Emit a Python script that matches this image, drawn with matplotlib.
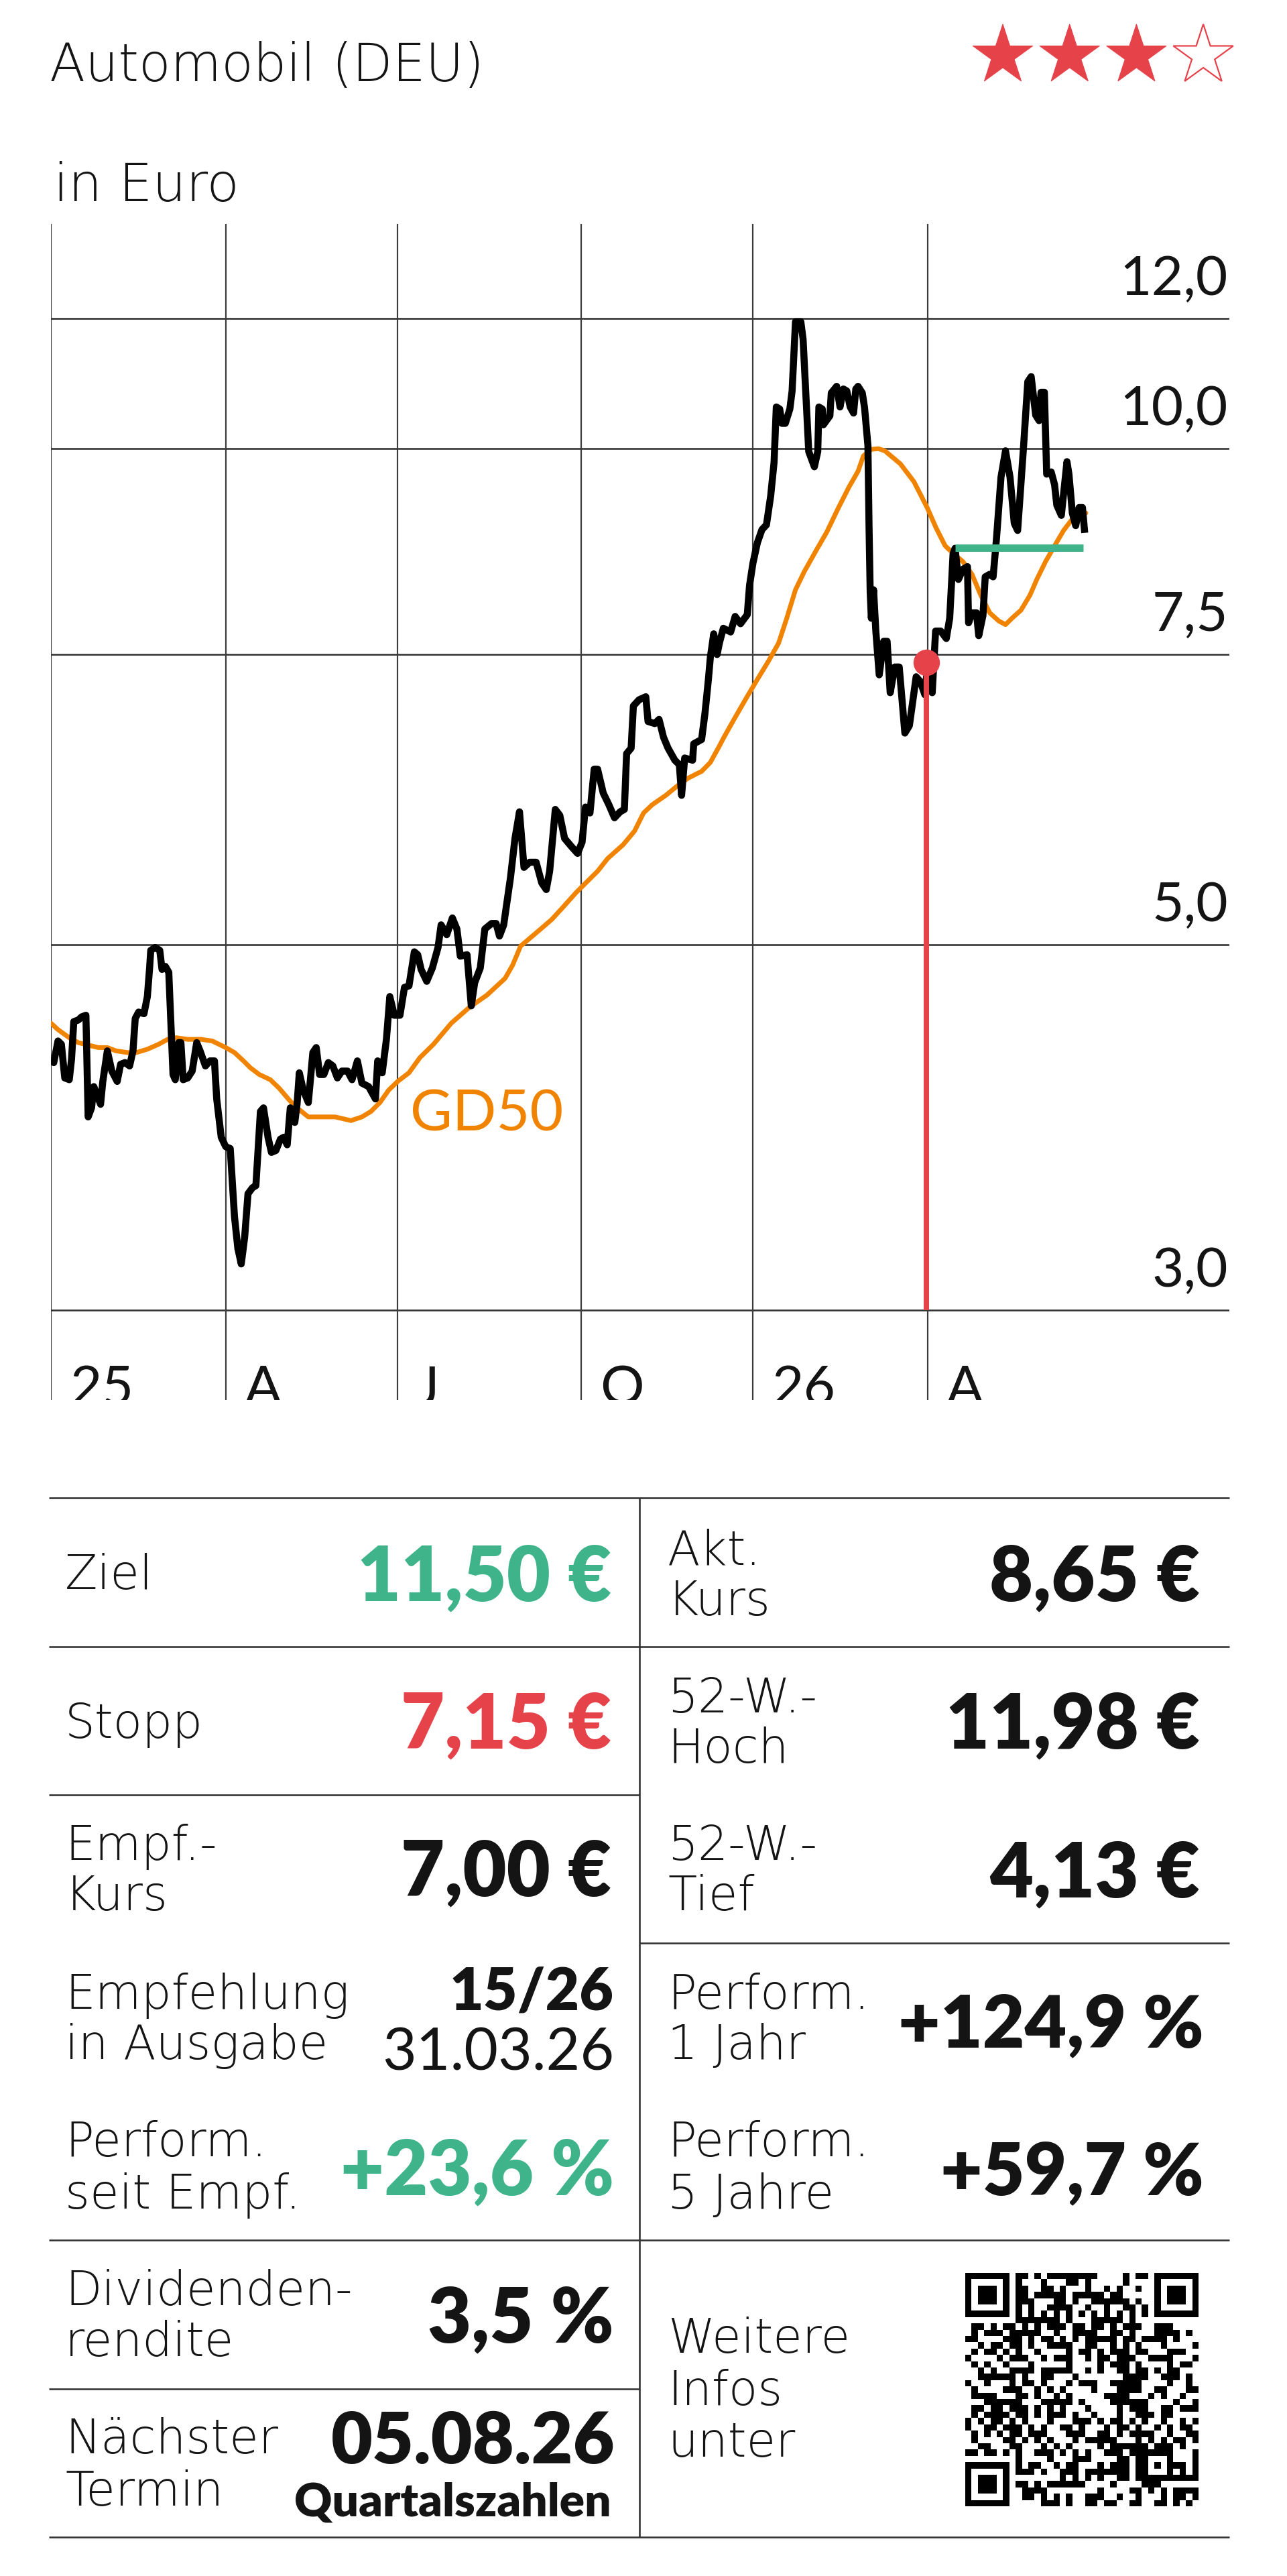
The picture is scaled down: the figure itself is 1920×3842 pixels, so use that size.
import hashlib
import numpy as np
import matplotlib
matplotlib.use("Agg")
import matplotlib.pyplot as plt
from matplotlib import font_manager as fm
from matplotlib.patches import Polygon
from matplotlib.colors import ListedColormap

W, H = 1920, 3842
DPI = 100
PT = 72 / DPI  # pixel -> point

plt.rcParams['font.family'] = ['Lato', 'DejaVu Sans']

# ---------------- data ----------------
title = "Automobil (DEU)"
unit_label = "in Euro"
stars_filled = 3
stars_total = 4

# x = trading-day index since start of 2025
price_day = [0.0, 1.0, 2.5, 3.7, 4.9, 6.5, 7.3, 8.1, 9.7, 10.9, 12.4, 13.2, 14.4, 15.2, 16.4,
             17.6, 18.4, 20.0, 21.6, 23.5, 24.7, 26.3, 27.9, 29.1, 29.9, 31.1, 33.0, 34.2, 35.0,
             35.4, 37.0, 38.6, 39.4, 40.6, 41.8, 43.3, 44.1, 45.3, 46.1, 46.9, 48.5, 50.1, 51.7,
             52.9, 54.8, 56.4, 58.0, 58.8, 60.4, 62.0, 63.6, 65.1, 66.3, 67.5, 68.7, 69.9, 71.5,
             72.7, 74.3, 75.4, 77.0, 78.2, 79.8, 81.4, 82.6, 83.8, 84.9, 86.5, 87.3, 88.1, 89.5,
             91.3, 92.9, 94.1, 95.3, 96.8, 98.4, 100.0, 101.6, 103.2, 105.2, 106.8, 108.7, 110.3,
             112.7, 115.1, 115.9, 117.5, 119.0, 120.2, 121.8, 123.8, 125.4, 127.0, 128.9, 130.1,
             131.3, 133.3, 135.3, 137.3, 138.4, 140.4, 142.4, 144.0, 145.2, 147.6, 149.1, 150.3,
             152.3, 153.9, 156.3, 157.9, 159.1, 160.6, 163.0, 164.6, 166.2, 167.8, 169.8, 172.1,
             174.1, 175.7, 176.9, 178.9, 180.5, 182.2, 184.8, 186.8, 188.4, 189.6, 191.2, 192.7,
             193.9, 195.9, 197.9, 199.9, 201.9, 203.4, 204.2, 205.8, 206.6, 208.6, 211.0, 211.8,
             214.2, 215.7, 217.3, 218.9, 221.3, 222.9, 223.7, 224.8, 227.6, 228.0, 230.8, 232.0,
             233.2, 233.9, 235.1, 236.3, 237.1, 238.5, 241.1, 242.7, 244.6, 247.0, 247.8, 249.0,
             250.6, 252.2, 253.8, 255.3, 256.5, 257.3, 258.5, 259.3, 260.5, 262.1, 262.9, 264.1,
             266.0, 266.8, 268.0, 268.8, 270.8, 272.0, 272.4, 273.6, 274.0, 276.3, 276.8, 278.7,
             279.9, 281.1, 282.3, 283.5, 284.7, 285.5, 286.3, 287.8, 288.6, 289.8, 290.2, 290.6,
             291.0, 291.8, 292.6, 293.8, 295.4, 296.6, 297.7, 299.3, 300.9, 302.9, 304.5, 306.9,
             308.4, 310.0, 311.0, 312.6, 313.8, 315.6, 317.6, 318.8, 320.0, 320.7, 321.9, 323.5,
             325.1, 325.5, 326.7, 328.3, 329.1, 330.6, 331.4, 333.0, 334.2, 335.4, 337.0, 338.6,
             340.2, 341.7, 342.9, 344.9, 346.5, 347.7, 349.3, 350.5, 351.2, 352.4, 353.2, 354.8,
             356.0, 356.8, 358.4, 360.4, 361.1, 362.3, 363.5, 364.7, 365.9, 366.7]
price_val = [4.26, 4.24, 4.37, 4.35, 4.15, 4.14, 4.26, 4.49, 4.50, 4.52, 4.53, 3.93, 3.98, 4.10, 4.05,
             4.00, 4.13, 4.31, 4.19, 4.13, 4.23, 4.24, 4.22, 4.31, 4.51, 4.55, 4.54, 4.65, 4.84,
             4.96, 4.98, 4.96, 4.83, 4.85, 4.81, 4.17, 4.14, 4.36, 4.36, 4.14, 4.15, 4.19, 4.36,
             4.31, 4.22, 4.25, 4.25, 4.03, 3.82, 3.77, 3.76, 3.42, 3.27, 3.20, 3.32, 3.53, 3.56,
             3.57, 3.96, 3.98, 3.82, 3.74, 3.75, 3.81, 3.82, 3.78, 3.98, 3.90, 4.00, 4.18, 4.08,
             4.01, 4.30, 4.33, 4.17, 4.17, 4.24, 4.22, 4.15, 4.19, 4.19, 4.14, 4.25, 4.12,
             4.10, 4.03, 4.25, 4.18, 4.38, 4.65, 4.53, 4.53, 4.71, 4.72, 4.95, 4.93,
             4.83, 4.75, 4.84, 4.98, 5.14, 5.07, 5.19, 5.11, 4.92, 4.93, 4.59, 4.74,
             4.84, 5.11, 5.15, 5.15, 5.06, 5.14, 5.49, 5.80, 6.02, 5.57, 5.61, 5.61,
             5.45, 5.40, 5.54, 6.04, 5.99, 5.80, 5.73, 5.68, 5.77, 6.06, 6.01, 6.39,
             6.39, 6.18, 6.08, 5.97, 6.02, 6.04, 6.53, 6.58, 6.98, 7.04, 7.07, 6.83,
             6.81, 6.85, 6.68, 6.58, 6.47, 6.43, 6.16, 6.49, 6.47, 6.62, 6.66, 6.91,
             7.24, 7.47, 7.72, 7.50, 7.62, 7.78, 7.74, 7.91, 7.83, 7.93, 8.26, 8.52,
             8.77, 8.93, 8.99, 9.36, 9.81, 10.60, 10.57, 10.36, 10.36, 10.57, 10.84, 11.94,
             11.94, 11.65, 10.60, 9.96, 9.75, 9.96, 10.60, 10.57, 10.34, 10.47, 10.81, 10.91,
             10.60, 10.87, 10.84, 10.60, 10.51, 10.87, 10.91, 10.81, 10.59, 10.04, 8.95, 8.18,
             7.89, 8.21, 7.75, 7.29, 7.64, 7.64, 7.11, 7.37, 7.37, 6.72, 6.79, 7.27,
             7.22, 7.09, 7.40, 7.11, 7.75, 7.75, 7.67, 7.89, 8.63, 8.70, 8.33, 8.45,
             8.48, 7.84, 7.95, 7.95, 7.70, 7.92, 8.36, 8.39, 8.36, 8.82, 9.61, 9.97,
             9.61, 9.01, 8.92, 9.97, 10.98, 11.06, 10.48, 10.40, 10.82, 10.82, 9.65, 9.68,
             9.51, 9.24, 9.11, 9.82, 9.65, 9.14, 8.98, 9.21, 9.21, 8.89]

gd50_day = [0.0, 2.5, 6.5, 9.7, 14.4, 16.8, 20.0, 23.1, 27.1, 30.3, 34.2, 38.2, 41.4, 44.5, 48.5,
            53.3, 57.2, 59.6, 62.0, 65.1, 68.3, 70.7, 73.9, 77.8, 81.0, 84.2, 86.5, 88.1, 91.3,
            96.1, 100.8, 106.4, 110.3, 113.5, 116.7, 119.8, 123.0, 127.0, 130.9, 135.7, 142.0,
            148.4, 154.7, 161.1, 163.8, 166.6, 169.0, 173.7, 177.7, 181.7, 186.4, 193.9, 197.5,
            203.0, 207.0, 210.2, 213.3, 218.1, 222.1, 226.0, 230.8, 233.9, 237.1, 238.7, 242.5,
            246.5, 250.5, 254.5, 258.1, 260.9, 264.1, 267.2, 271.2, 275.2, 279.1, 283.1, 286.3,
            288.2, 291.0, 293.5, 295.8, 301.3, 306.1, 310.8, 314.0, 317.2, 320.3, 323.5, 326.7,
            329.8, 333.0, 336.2, 338.6, 340.9, 344.1, 347.3, 349.7, 352.8, 356.0, 359.2, 362.0,
            364.7, 367.1]
gd50_val = [4.48, 4.44, 4.39, 4.36, 4.34, 4.33, 4.33, 4.31, 4.30, 4.30, 4.32, 4.35, 4.38, 4.39, 4.38,
            4.38, 4.37, 4.35, 4.33, 4.30, 4.25, 4.21, 4.17, 4.14, 4.09, 4.03, 3.99, 3.97, 3.93,
            3.93, 3.93, 3.91, 3.93, 3.96, 4.01, 4.08, 4.13, 4.18, 4.27, 4.35, 4.48,
            4.58, 4.66, 4.77, 4.86, 4.99, 5.03, 5.11, 5.18, 5.27, 5.38, 5.54, 5.64,
            5.75, 5.86, 6.01, 6.08, 6.16, 6.24, 6.31, 6.37, 6.45, 6.60, 6.68, 6.86,
            7.05, 7.24, 7.43, 7.62, 7.88, 8.21, 8.42, 8.66, 8.90, 9.19, 9.48, 9.69,
            9.90, 9.99, 10.00, 9.97, 9.79, 9.55, 9.21, 8.95, 8.73, 8.63, 8.54, 8.39,
            8.15, 7.95, 7.86, 7.82, 7.89, 7.98, 8.15, 8.33, 8.54, 8.73, 8.92, 9.05,
            9.11, 9.14]

tick_days = [0, 62, 123, 188, 249, 311]
tick_labels = ["25", "A", "J", "O", "26", "A"]
ytick_vals = [3.0, 5.0, 7.5, 10.0, 12.0]
ytick_labels = ["3,0", "5,0", "7,5", "10,0", "12,0"]

entry_day, entry_val = 310.6, 7.42          # Empfehlung (rot)
current_level = 8.71                         # aktuelle Marke (grün)
current_from, current_to = 320.8, 366.2

table_left = [  # (label lines, value, value colour)
    (["Ziel"], "11,50 €", "green"),
    (["Stopp"], "7,15 €", "red"),
    (["Empf.-", "Kurs"], "7,00 €", "black"),
    (["Empfehlung", "in Ausgabe"], ("15/26", "31.03.26"), "black"),
    (["Perform.", "seit Empf."], "+23,6 %", "green"),
    (["Dividenden-", "rendite"], "3,5 %", "black"),
    (["Nächster", "Termin"], ("05.08.26", "Quartalszahlen"), "black"),
]
table_right = [
    (["Akt.", "Kurs"], "8,65 €"),
    (["52-W.-", "Hoch"], "11,98 €"),
    (["52-W.-", "Tief"], "4,13 €"),
    (["Perform.", "1 Jahr"], "+124,9 %"),
    (["Perform.", "5 Jahre"], "+59,7 %"),
]
info_lines = ["Weitere", "Infos", "unter"]

# ---------------- fonts ----------------
def _weight(f):
    w = f.weight
    if isinstance(w, str):
        w = fm.weight_dict.get(w, 400)
    return w


def _has(family, lo, hi):
    return any(f.name == family and lo <= _weight(f) <= hi and f.style == "normal"
               for f in fm.fontManager.ttflist)


if _has("DejaVu Sans", 100, 260):
    LABEL_FONT = dict(family=["DejaVu Sans"], fontweight=200)
    LABEL_SCALE = 1.0
elif _has("Open Sans", 250, 350):
    LABEL_FONT = dict(family=["Open Sans", "DejaVu Sans"], fontweight=300)
    LABEL_SCALE = 1.02
else:
    LABEL_FONT = dict(family=["Lato", "DejaVu Sans"], fontweight="normal")
    LABEL_SCALE = 1.0
THIN = dict(family=["Lato", "DejaVu Sans"], fontweight="normal")
HEAVY = dict(family=["Lato", "DejaVu Sans"], fontweight="heavy")

# ---------------- styles ----------------
INK = "#141414"
GRID = "#333333"
GREEN = "#3fb48b"
RED = "#e6424a"
ORANGE = "#f08400"
COLORS = {"green": GREEN, "red": RED, "black": INK}

fig = plt.figure(figsize=(W / DPI, H / DPI), dpi=DPI, facecolor="white")

# pixel canvas for header and table
bg = fig.add_axes([0, 0, 1, 1])
bg.set_xlim(0, W)
bg.set_ylim(H, 0)
bg.axis("off")

# ---------------- chart ----------------
ax_l, ax_r, ax_t, ax_b = 76, 1834, 334, 2088
ax = fig.add_axes([ax_l / W, 1 - ax_b / H, (ax_r - ax_l) / W, (ax_b - ax_t) / H])
ax.set_yscale("log")
ax.set_xlim(0, 418)
ax.set_ylim(2.646, 13.69)
ax.axis("off")

for v in ytick_vals:
    ax.axhline(v, color=GRID, lw=2.6 * PT, zorder=1)
for d in tick_days:
    ax.axvline(d, color="#3c3c3c", lw=2.2 * PT, zorder=1)

for v, lab in zip(ytick_vals, ytick_labels):
    ax.annotate(lab, xy=(1, v), xycoords=("axes fraction", "data"),
                xytext=(-2 * PT, 35 * PT), textcoords="offset points",
                ha="right", va="baseline", fontsize=59, color=INK, zorder=2, **THIN)

px_per_day = (ax_r - ax_l) / 418
for d, lab in zip(tick_days, tick_labels):
    ax.text(d + 28 / px_per_day, 2.628, lab, ha="left", va="baseline",
            fontsize=59, color=INK, clip_on=True, zorder=2, **THIN)

ax.plot(gd50_day, gd50_val, color=ORANGE, lw=7 * PT, solid_joinstyle="round",
        solid_capstyle="round", zorder=3)
ax.plot(price_day, price_val, color="black", lw=10.5 * PT, solid_joinstyle="round",
        solid_capstyle="butt", zorder=4)
ax.text(127.4, 3.853, "GD50", color=ORANGE, fontsize=62, ha="left", va="baseline",
        zorder=3, **THIN)

ax.plot([current_from, current_to], [current_level, current_level], color=GREEN,
        lw=11 * PT, solid_capstyle="butt", zorder=5)
ax.plot([entry_day, entry_day], [3.0, entry_val], color=RED, lw=8 * PT,
        solid_capstyle="butt", zorder=6)
ax.plot([entry_day], [entry_val], "o", ms=38 * PT, color=RED, mec=RED, zorder=7)

# ---------------- header ----------------
bg.text(74, 121, title, fontsize=56 * LABEL_SCALE, color=INK, ha="left", va="baseline", **LABEL_FONT)
bg.text(80, 300, unit_label, fontsize=57 * LABEL_SCALE, color=INK, ha="left", va="baseline", **LABEL_FONT)

R_out, R_in = 47, 47 * 0.382
for i in range(stars_total):
    cx, cy = 1496 + i * 99.7, 83
    pts = []
    for k in range(10):
        ang = np.pi / 2 + k * np.pi / 5
        rad = R_out if k % 2 == 0 else R_in
        pts.append((cx + rad * np.cos(ang), cy - rad * np.sin(ang)))
    if i < stars_filled:
        bg.add_patch(Polygon(pts, closed=True, facecolor=RED, edgecolor=RED, lw=1 * PT))
    else:
        bg.add_patch(Polygon(pts, closed=True, facecolor="none", edgecolor=RED, lw=2.2 * PT))

# ---------------- table ----------------
TL, TM, TR = 73, 954, 1834
LW = 2.6 * PT
for y, x0, x1 in [(2233.5, TL, TR), (2455.5, TL, TR), (2677, TL, TM), (2898, TM, TR),
                  (3341, TL, TR), (3563, TL, TM), (3784, TL, TR)]:
    bg.plot([x0, x1], [y, y], color=GRID, lw=LW, solid_capstyle="butt")
bg.plot([TM, TM], [2233.5, 3784], color=GRID, lw=LW, solid_capstyle="butt")

LBL = dict(fontsize=51 * LABEL_SCALE, color=INK, ha="left", va="baseline", **LABEL_FONT)
VAL = dict(fontsize=81, ha="right", va="baseline", **HEAVY)

left_label_base = [(2370,), (2592,), (2774, 2849), (2996, 3071), (3216, 3294),
                   (3438, 3514), (3659, 3737)]
left_value_base = [2388, 2608, 2828, None, 3273, 3493, None]
for (lines, value, col), lb, vb in zip(table_left, left_label_base, left_value_base):
    for txt, yb in zip(lines, lb):
        bg.text(97, yb, txt, **LBL)
    if isinstance(value, tuple):
        continue
    xr = 912 if "€" in value else 916
    bg.text(xr, vb, value, color=COLORS[col], **VAL)

# special cells
emp_issue, emp_date = table_left[3][1]
bg.text(916, 2998, emp_issue, fontsize=63, color=INK, ha="right", va="baseline", **HEAVY)
bg.text(916, 3088, emp_date, fontsize=63, color=INK, ha="right", va="baseline", **THIN)
term_date, term_kind = table_left[6][1]
bg.text(918, 3674, term_date, fontsize=77, color=INK, ha="right", va="baseline", **HEAVY)
bg.text(912, 3752, term_kind, fontsize=50, color=INK, ha="right", va="baseline", **HEAVY)

right_label_base = [(2334, 2409), (2554, 2629), (2774, 2849), (2996, 3071), (3216, 3294)]
right_value_base = [2388, 2608, 2830, 3053, 3273]
for (lines, value), lb, vb in zip(table_right, right_label_base, right_value_base):
    for txt, yb in zip(lines, lb):
        bg.text(996, yb, txt, **LBL)
    xr = 1790 if "€" in value else 1796
    fs = 78 if "%" in value else 81
    bg.text(xr, vb, value, color=INK, fontsize=fs, ha="right", va="baseline", **HEAVY)

for txt, yb in zip(info_lines, [3509, 3587, 3664]):
    bg.text(996, yb, txt, **LBL)

# QR-style code (decorative, deterministic pattern)
n = 37
bits = []
i = 0
while len(bits) < n * n:
    h = hashlib.sha256(("qr-automobil-" + str(i)).encode()).digest()
    for byte in h:
        for b in range(8):
            bits.append((byte >> b) & 1)
    i += 1
M = np.array(bits[:n * n]).reshape(n, n)


def finder(r, c):
    for rr in range(-1, 8):
        for cc in range(-1, 8):
            y, x = r + rr, c + cc
            if 0 <= y < n and 0 <= x < n:
                M[y, x] = 0
    for rr in range(7):
        for cc in range(7):
            ring = max(abs(rr - 3), abs(cc - 3))
            M[r + rr, c + cc] = 1 if ring in (0, 1, 3) else 0


finder(0, 0)
finder(0, n - 7)
finder(n - 7, 0)
for j in range(8, n - 8):
    M[6, j] = 1 if j % 2 == 0 else 0
    M[j, 6] = 1 if j % 2 == 0 else 0
for rr in range(-2, 3):
    for cc in range(-2, 3):
        ring = max(abs(rr), abs(cc))
        M[30 + rr, 30 + cc] = 1 if ring in (0, 2) else 0
M[n - 8, 8] = 1

bg.imshow(M, cmap=ListedColormap(["white", "black"]), interpolation="nearest",
          extent=(1440, 1788, 3738, 3390), aspect="auto", origin="upper", zorder=2)
bg.set_xlim(0, W)
bg.set_ylim(H, 0)

fig.savefig("out.png", dpi=DPI, facecolor="white")
